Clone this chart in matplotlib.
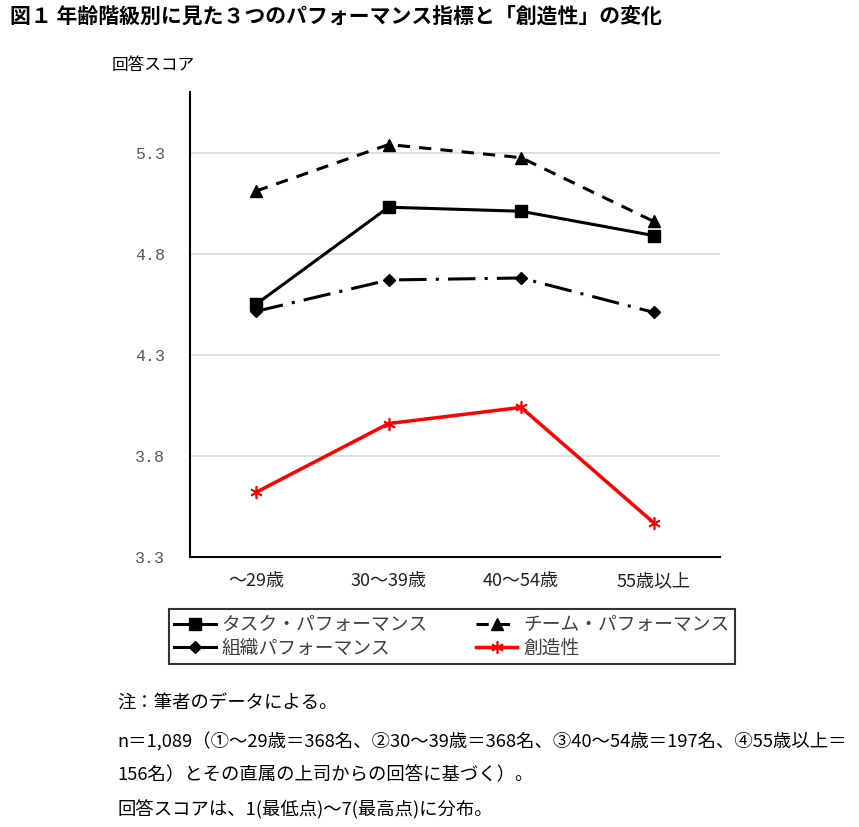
import matplotlib.pyplot as plt
from matplotlib.lines import Line2D

plt.rcParams['font.family'] = ['Noto Sans CJK JP', 'DejaVu Sans']

# data
ages = ['～29歳', '30～39歳', '40～54歳', '55歳以上']
task = [4.55, 5.03, 5.01, 4.89]
team = [5.11, 5.34, 5.275, 4.96]
org = [4.515, 4.67, 4.68, 4.51]
creativity = [3.62, 3.96, 4.04, 3.47]
yticks = [3.3, 3.8, 4.3, 4.8, 5.3]

title = '図１ 年齢階級別に見た３つのパフォーマンス指標と「創造性」の変化'
notes = ['注：筆者のデータによる。',
         'n＝1,089（①～29歳＝368名、②30～39歳＝368名、③40～54歳＝197名、④55歳以上＝',
         '156名）とその直属の上司からの回答に基づく）。',
         '回答スコアは、1(最低点)～7(最高点)に分布。']

fig = plt.figure(figsize=(8.59, 8.27), dpi=100)
ax = fig.add_axes([0.221, 0.3265, 0.617, 0.5623])

x = range(len(ages))
l1, = ax.plot(x, task, color='black', lw=2.2, marker='s', ms=9,
              label='タスク・パフォーマンス')
l2, = ax.plot(x, team, color='black', lw=2.2, marker='^', ms=8,
              dashes=(4, 3), label='チーム・パフォーマンス')
l3, = ax.plot(x, org, color='black', lw=2.2, marker='D', ms=6.5,
              dashes=(9, 3, 1, 3), label='組織パフォーマンス')
l4, = ax.plot(x, creativity, color='#ff0000', lw=2.5, marker=(6, 2, 0),
              ms=9, mew=1.2, label='創造性')

ax.set_xlim(-0.5, 3.5)
ax.set_ylim(3.3, 5.6)
ax.set_yticks(yticks)
ax.set_yticklabels([f'{v:.1f}' for v in yticks], family='Liberation Mono',
                   fontsize=12, color='#595959')
ax.set_xticks(list(x))
ax.set_xticklabels(ages, fontsize=13, color='#222222')
ax.tick_params(length=0)
ax.tick_params(axis='x', pad=11)
ax.tick_params(axis='y', pad=18)
ax.grid(axis='y', color='#d9d9d9', lw=1.2)
ax.set_axisbelow(True)
for s in ['top', 'right']:
    ax.spines[s].set_visible(False)
ax.spines['left'].set_linewidth(1.5)
ax.spines['bottom'].set_linewidth(1.5)

fig.text(0.13, 0.915, '回答スコア', fontsize=12)
fig.text(0.012, 0.972, title, fontsize=15, fontweight='bold')

# legend handles: organisation line drawn solid as in the original
org_h = Line2D([], [], color='black', lw=2.2, marker='D', ms=6.5)
leg = fig.legend([l1, org_h, l2, l4], [l1.get_label(), l3.get_label(),
                 l2.get_label(), l4.get_label()],
                 ncol=2, loc='center', bbox_to_anchor=(0.526, 0.2304),
                 fontsize=13.5, handlelength=2.2, fancybox=False,
                 edgecolor='black', borderpad=0.3, labelspacing=0.12,
                 columnspacing=2.6, handletextpad=0.3)
leg.get_frame().set_linewidth(1.5)
for t in leg.get_texts():
    t.set_color('#404040')

ny = [0.150, 0.103, 0.062, 0.021]
for s, yy in zip(notes, ny):
    fig.text(0.137, yy, s, fontsize=13.2, va='center')

fig.savefig('out.png', dpi=100)
